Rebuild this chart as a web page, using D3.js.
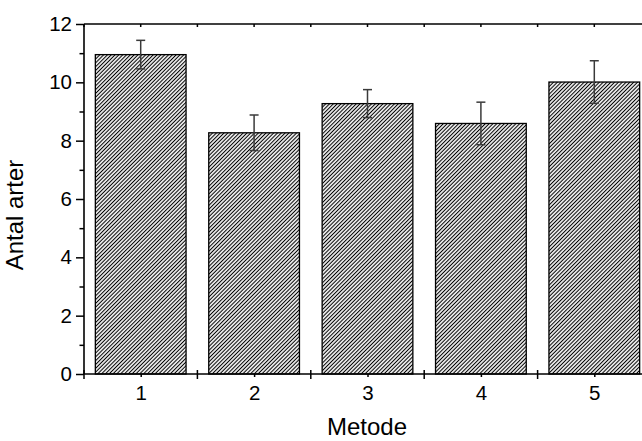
<!DOCTYPE html>
<html>
<head>
<meta charset="utf-8">
<script src="https://cdn.jsdelivr.net/npm/d3@7"></script>
<style>
  html, body { margin: 0; padding: 0; background: #fff; }
  svg { display: block; }
  text { font-family: "Liberation Sans", Arial, Helvetica, sans-serif; fill: #000; }
</style>
</head>
<body>
<svg id="chart" width="642" height="441"></svg>
<script>
// Mean number of species per method, with error (±) values
const methods = [1, 2, 3, 4, 5];
const means = [10.95, 8.27, 9.27, 8.59, 10.01];
const errors = [0.49, 0.61, 0.48, 0.73, 0.73];
const yTicks = [0, 2, 4, 6, 8, 10, 12];
const yMinorTicks = [1, 3, 5, 7, 9, 11];
const xBounds = [0.5, 1.5, 2.5, 3.5, 4.5, 5.5];

const svg = d3.select("#chart");
const plotLeft = 84, plotRight = 651, plotTop = 24, plotBottom = 374;

const x = d3.scaleLinear().domain([0.5, 5.5]).range([plotLeft, plotRight]);
const y = d3.scaleLinear().domain([0, 12]).range([plotBottom, plotTop]);
const barW = (x(1.4) - x(0.6));

// diagonal hatch fill
const defs = svg.append("defs");
const pat = defs.append("pattern")
  .attr("id", "hatch")
  .attr("patternUnits", "userSpaceOnUse")
  .attr("width", 2.7).attr("height", 10)
  .attr("patternTransform", "rotate(45)");
pat.append("rect").attr("width", 2.7).attr("height", 10).attr("fill", "#fff");
pat.append("line")
  .attr("x1", 1.35).attr("y1", 0).attr("x2", 1.35).attr("y2", 10)
  .attr("stroke", "#000").attr("stroke-width", 1.1);

// bars
svg.append("g").selectAll("rect")
  .data(methods)
  .join("rect")
  .attr("x", (d) => x(d) - barW / 2)
  .attr("y", (d, i) => y(means[i]))
  .attr("width", barW)
  .attr("height", (d, i) => y(0) - y(means[i]))
  .attr("fill", "url(#hatch)")
  .attr("stroke", "#000")
  .attr("stroke-width", 1.3);

// error bars
const eb = svg.append("g").attr("stroke", "#3a3a3a").attr("stroke-width", 1.5);
methods.forEach((d, i) => {
  const cx = x(d);
  const y1 = y(means[i] + errors[i]);
  const y2 = y(means[i] - errors[i]);
  eb.append("line").attr("x1", cx).attr("x2", cx).attr("y1", y1).attr("y2", y2);
  eb.append("line").attr("x1", cx - 4.5).attr("x2", cx + 4.5).attr("y1", y1).attr("y2", y1);
  eb.append("line").attr("x1", cx - 4.5).attr("x2", cx + 4.5).attr("y1", y2).attr("y2", y2);
});

// left axis: major ticks outward with labels, minor ticks outward
const yAxis = d3.axisLeft(y).tickValues(yTicks).tickSize(8).tickPadding(4).tickFormat(d3.format("d"));
const gy = svg.append("g").attr("transform", `translate(${plotLeft},0)`).call(yAxis);
gy.select(".domain").remove();
gy.selectAll(".tick line").attr("stroke", "#000").attr("stroke-width", 1.5);
gy.selectAll(".tick text").attr("font-size", 20.5).style("font-family", "Liberation Sans, Arial, sans-serif");
const gyMinor = svg.append("g").attr("transform", `translate(${plotLeft},0)`)
  .call(d3.axisLeft(y).tickValues(yMinorTicks).tickSize(4.5).tickFormat(""));
gyMinor.select(".domain").remove();
gyMinor.selectAll(".tick line").attr("stroke", "#000").attr("stroke-width", 1.5);

// bottom axis: labels at category centres, short ticks at centres
const xAxis = d3.axisBottom(x).tickValues(methods).tickSize(3).tickPadding(8).tickFormat(d3.format("d"));
const gx = svg.append("g").attr("transform", `translate(0,${plotBottom})`).call(xAxis);
gx.select(".domain").remove();
gx.selectAll(".tick line").attr("stroke", "#000").attr("stroke-width", 1.5);
gx.selectAll(".tick text").attr("font-size", 20.5).style("font-family", "Liberation Sans, Arial, sans-serif");

// crossing ticks at category boundaries
const gxB = svg.append("g").attr("stroke", "#000").attr("stroke-width", 1.5);
gxB.selectAll("line").data(xBounds).join("line")
  .attr("x1", (d) => x(d)).attr("x2", (d) => x(d))
  .attr("y1", plotBottom - 4).attr("y2", plotBottom + 5);

// top axis: inward ticks at centres and boundaries
const gt = svg.append("g").attr("stroke", "#000").attr("stroke-width", 1.5);
gt.selectAll("line").data(methods.concat(xBounds)).join("line")
  .attr("x1", (d) => x(d)).attr("x2", (d) => x(d))
  .attr("y1", plotTop).attr("y2", plotTop + 3);

// frame
const frame = svg.append("g").attr("stroke", "#000").attr("stroke-width", 1.6).attr("fill", "none");
frame.append("line").attr("x1", plotLeft).attr("x2", plotRight).attr("y1", plotTop).attr("y2", plotTop);
frame.append("line").attr("x1", plotLeft).attr("x2", plotRight).attr("y1", plotBottom).attr("y2", plotBottom);
frame.append("line").attr("x1", plotLeft).attr("x2", plotLeft).attr("y1", plotTop).attr("y2", plotBottom);
frame.append("line").attr("x1", plotRight).attr("x2", plotRight).attr("y1", plotTop).attr("y2", plotBottom);

// axis titles
svg.append("text")
  .attr("x", 367).attr("y", 435)
  .attr("text-anchor", "middle")
  .attr("font-size", 24)
  .text("Metode");
svg.append("text")
  .attr("transform", `translate(23,215) rotate(-90)`)
  .attr("text-anchor", "middle")
  .attr("font-size", 24)
  .text("Antal arter");
</script>
</body>
</html>
